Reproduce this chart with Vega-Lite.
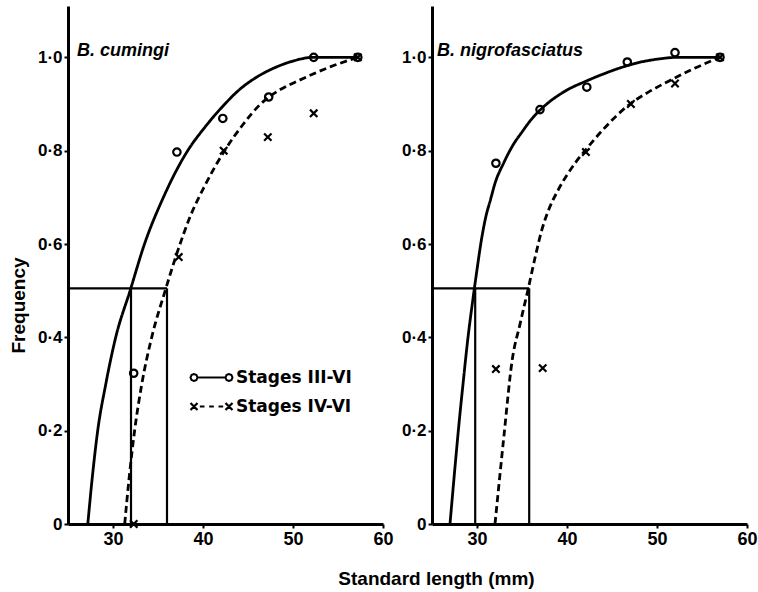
{
  "$schema": "https://vega.github.io/schema/vega-lite/v6.json",
  "padding": {"left": 9, "top": 6, "right": 5, "bottom": 5},
  "background": "white",
  "bounds": "flush",
  "spacing": 49,
  "datasets": {
    "curves": [
      {"species": "B. cumingi", "stage": "Stages III-VI", "x": 27.2, "y": 0},
      {"species": "B. cumingi", "stage": "Stages III-VI", "x": 27.7, "y": 0.1},
      {"species": "B. cumingi", "stage": "Stages III-VI", "x": 28.3, "y": 0.2},
      {"species": "B. cumingi", "stage": "Stages III-VI", "x": 29.2, "y": 0.3},
      {"species": "B. cumingi", "stage": "Stages III-VI", "x": 30.3, "y": 0.4},
      {"species": "B. cumingi", "stage": "Stages III-VI", "x": 31.9, "y": 0.5},
      {"species": "B. cumingi", "stage": "Stages III-VI", "x": 33.5, "y": 0.6},
      {"species": "B. cumingi", "stage": "Stages III-VI", "x": 35.6, "y": 0.7},
      {"species": "B. cumingi", "stage": "Stages III-VI", "x": 38.3, "y": 0.8},
      {"species": "B. cumingi", "stage": "Stages III-VI", "x": 40.2, "y": 0.85},
      {"species": "B. cumingi", "stage": "Stages III-VI", "x": 42.1, "y": 0.893},
      {"species": "B. cumingi", "stage": "Stages III-VI", "x": 44.0, "y": 0.93},
      {"species": "B. cumingi", "stage": "Stages III-VI", "x": 46.0, "y": 0.958},
      {"species": "B. cumingi", "stage": "Stages III-VI", "x": 48.0, "y": 0.978},
      {"species": "B. cumingi", "stage": "Stages III-VI", "x": 50.0, "y": 0.992},
      {"species": "B. cumingi", "stage": "Stages III-VI", "x": 52.2, "y": 1.0},
      {"species": "B. cumingi", "stage": "Stages III-VI", "x": 57.2, "y": 1.0},
      {"species": "B. cumingi", "stage": "Stages IV-VI", "x": 31.3, "y": 0},
      {"species": "B. cumingi", "stage": "Stages IV-VI", "x": 31.8, "y": 0.1},
      {"species": "B. cumingi", "stage": "Stages IV-VI", "x": 32.4, "y": 0.2},
      {"species": "B. cumingi", "stage": "Stages IV-VI", "x": 33.2, "y": 0.3},
      {"species": "B. cumingi", "stage": "Stages IV-VI", "x": 34.3, "y": 0.4},
      {"species": "B. cumingi", "stage": "Stages IV-VI", "x": 35.8, "y": 0.5},
      {"species": "B. cumingi", "stage": "Stages IV-VI", "x": 37.1, "y": 0.58},
      {"species": "B. cumingi", "stage": "Stages IV-VI", "x": 38.6, "y": 0.66},
      {"species": "B. cumingi", "stage": "Stages IV-VI", "x": 40.2, "y": 0.725},
      {"species": "B. cumingi", "stage": "Stages IV-VI", "x": 42.4, "y": 0.8},
      {"species": "B. cumingi", "stage": "Stages IV-VI", "x": 44.4, "y": 0.855},
      {"species": "B. cumingi", "stage": "Stages IV-VI", "x": 46.4, "y": 0.9},
      {"species": "B. cumingi", "stage": "Stages IV-VI", "x": 48.5, "y": 0.93},
      {"species": "B. cumingi", "stage": "Stages IV-VI", "x": 50.6, "y": 0.95},
      {"species": "B. cumingi", "stage": "Stages IV-VI", "x": 54.2, "y": 0.98},
      {"species": "B. cumingi", "stage": "Stages IV-VI", "x": 57.2, "y": 1.0},
      {"species": "B. nigrofasciatus", "stage": "Stages III-VI", "x": 27.0, "y": 0},
      {"species": "B. nigrofasciatus", "stage": "Stages III-VI", "x": 27.5, "y": 0.11},
      {"species": "B. nigrofasciatus", "stage": "Stages III-VI", "x": 28.0, "y": 0.215},
      {"species": "B. nigrofasciatus", "stage": "Stages III-VI", "x": 28.5, "y": 0.31},
      {"species": "B. nigrofasciatus", "stage": "Stages III-VI", "x": 29.0, "y": 0.4},
      {"species": "B. nigrofasciatus", "stage": "Stages III-VI", "x": 29.5, "y": 0.475},
      {"species": "B. nigrofasciatus", "stage": "Stages III-VI", "x": 30.0, "y": 0.545},
      {"species": "B. nigrofasciatus", "stage": "Stages III-VI", "x": 30.5, "y": 0.61},
      {"species": "B. nigrofasciatus", "stage": "Stages III-VI", "x": 31.0, "y": 0.66},
      {"species": "B. nigrofasciatus", "stage": "Stages III-VI", "x": 31.5, "y": 0.695},
      {"species": "B. nigrofasciatus", "stage": "Stages III-VI", "x": 32.0, "y": 0.73},
      {"species": "B. nigrofasciatus", "stage": "Stages III-VI", "x": 33.0, "y": 0.775},
      {"species": "B. nigrofasciatus", "stage": "Stages III-VI", "x": 34.0, "y": 0.812},
      {"species": "B. nigrofasciatus", "stage": "Stages III-VI", "x": 35.0, "y": 0.84},
      {"species": "B. nigrofasciatus", "stage": "Stages III-VI", "x": 36.0, "y": 0.866},
      {"species": "B. nigrofasciatus", "stage": "Stages III-VI", "x": 37.0, "y": 0.887},
      {"species": "B. nigrofasciatus", "stage": "Stages III-VI", "x": 38.0, "y": 0.904},
      {"species": "B. nigrofasciatus", "stage": "Stages III-VI", "x": 39.0, "y": 0.918},
      {"species": "B. nigrofasciatus", "stage": "Stages III-VI", "x": 40.0, "y": 0.93},
      {"species": "B. nigrofasciatus", "stage": "Stages III-VI", "x": 42.0, "y": 0.948},
      {"species": "B. nigrofasciatus", "stage": "Stages III-VI", "x": 44.0, "y": 0.964},
      {"species": "B. nigrofasciatus", "stage": "Stages III-VI", "x": 46.0, "y": 0.978},
      {"species": "B. nigrofasciatus", "stage": "Stages III-VI", "x": 48.0, "y": 0.989},
      {"species": "B. nigrofasciatus", "stage": "Stages III-VI", "x": 50.0, "y": 0.996},
      {"species": "B. nigrofasciatus", "stage": "Stages III-VI", "x": 52.3, "y": 1.0},
      {"species": "B. nigrofasciatus", "stage": "Stages III-VI", "x": 57.0, "y": 1.0},
      {"species": "B. nigrofasciatus", "stage": "Stages IV-VI", "x": 32.0, "y": 0},
      {"species": "B. nigrofasciatus", "stage": "Stages IV-VI", "x": 33.0, "y": 0.19},
      {"species": "B. nigrofasciatus", "stage": "Stages IV-VI", "x": 33.9, "y": 0.35},
      {"species": "B. nigrofasciatus", "stage": "Stages IV-VI", "x": 34.8, "y": 0.43},
      {"species": "B. nigrofasciatus", "stage": "Stages IV-VI", "x": 35.7, "y": 0.505},
      {"species": "B. nigrofasciatus", "stage": "Stages IV-VI", "x": 36.5, "y": 0.575},
      {"species": "B. nigrofasciatus", "stage": "Stages IV-VI", "x": 37.2, "y": 0.63},
      {"species": "B. nigrofasciatus", "stage": "Stages IV-VI", "x": 38.0, "y": 0.675},
      {"species": "B. nigrofasciatus", "stage": "Stages IV-VI", "x": 39.0, "y": 0.715},
      {"species": "B. nigrofasciatus", "stage": "Stages IV-VI", "x": 40.0, "y": 0.748},
      {"species": "B. nigrofasciatus", "stage": "Stages IV-VI", "x": 41.0, "y": 0.776},
      {"species": "B. nigrofasciatus", "stage": "Stages IV-VI", "x": 42.0, "y": 0.8},
      {"species": "B. nigrofasciatus", "stage": "Stages IV-VI", "x": 44.0, "y": 0.845},
      {"species": "B. nigrofasciatus", "stage": "Stages IV-VI", "x": 47.0, "y": 0.9},
      {"species": "B. nigrofasciatus", "stage": "Stages IV-VI", "x": 49.0, "y": 0.925},
      {"species": "B. nigrofasciatus", "stage": "Stages IV-VI", "x": 51.4, "y": 0.95},
      {"species": "B. nigrofasciatus", "stage": "Stages IV-VI", "x": 54.0, "y": 0.975},
      {"species": "B. nigrofasciatus", "stage": "Stages IV-VI", "x": 57.0, "y": 1.0}
    ],
    "points": [
      {"species": "B. cumingi", "stage": "Stages III-VI", "x": 32.3, "y": 0.323},
      {"species": "B. cumingi", "stage": "Stages III-VI", "x": 37.1, "y": 0.797},
      {"species": "B. cumingi", "stage": "Stages III-VI", "x": 42.2, "y": 0.869},
      {"species": "B. cumingi", "stage": "Stages III-VI", "x": 47.3, "y": 0.915},
      {"species": "B. cumingi", "stage": "Stages III-VI", "x": 52.3, "y": 1.0},
      {"species": "B. cumingi", "stage": "Stages III-VI", "x": 57.2, "y": 1.0},
      {"species": "B. cumingi", "stage": "Stages IV-VI", "x": 32.3, "y": 0},
      {"species": "B. cumingi", "stage": "Stages IV-VI", "x": 37.3, "y": 0.572},
      {"species": "B. cumingi", "stage": "Stages IV-VI", "x": 42.3, "y": 0.8},
      {"species": "B. cumingi", "stage": "Stages IV-VI", "x": 47.2, "y": 0.829},
      {"species": "B. cumingi", "stage": "Stages IV-VI", "x": 52.3, "y": 0.88},
      {"species": "B. cumingi", "stage": "Stages IV-VI", "x": 57.2, "y": 1.0},
      {"species": "B. nigrofasciatus", "stage": "Stages III-VI", "x": 32.1, "y": 0.773},
      {"species": "B. nigrofasciatus", "stage": "Stages III-VI", "x": 37.0, "y": 0.888},
      {"species": "B. nigrofasciatus", "stage": "Stages III-VI", "x": 42.2, "y": 0.936},
      {"species": "B. nigrofasciatus", "stage": "Stages III-VI", "x": 46.7, "y": 0.99},
      {"species": "B. nigrofasciatus", "stage": "Stages III-VI", "x": 52.0, "y": 1.01},
      {"species": "B. nigrofasciatus", "stage": "Stages III-VI", "x": 57.0, "y": 1.0},
      {"species": "B. nigrofasciatus", "stage": "Stages IV-VI", "x": 32.1, "y": 0.332},
      {"species": "B. nigrofasciatus", "stage": "Stages IV-VI", "x": 37.3, "y": 0.334},
      {"species": "B. nigrofasciatus", "stage": "Stages IV-VI", "x": 42.1, "y": 0.797},
      {"species": "B. nigrofasciatus", "stage": "Stages IV-VI", "x": 47.1, "y": 0.9},
      {"species": "B. nigrofasciatus", "stage": "Stages IV-VI", "x": 52.0, "y": 0.944},
      {"species": "B. nigrofasciatus", "stage": "Stages IV-VI", "x": 57.0, "y": 1.0}
    ],
    "refs": [
      {"species": "B. cumingi", "x": 25, "x2": 36, "y": 0.505, "y2": 0.505},
      {"species": "B. cumingi", "x": 32, "x2": 32, "y": 0, "y2": 0.505},
      {"species": "B. cumingi", "x": 36, "x2": 36, "y": 0, "y2": 0.505},
      {"species": "B. nigrofasciatus", "x": 25, "x2": 35.8, "y": 0.505, "y2": 0.505},
      {"species": "B. nigrofasciatus", "x": 29.8, "x2": 29.8, "y": 0, "y2": 0.505},
      {"species": "B. nigrofasciatus", "x": 35.8, "x2": 35.8, "y": 0, "y2": 0.505}
    ]
  },
  "hconcat": [
    {
      "width": 315,
      "height": 518,
      "title": {"text": "B. cumingi", "anchor": "start", "frame": "group", "dx": 9, "dy": 54, "offset": 0},
      "encoding": {
        "x": {"field": "x", "type": "quantitative", "scale": {"domain": [25, 60], "nice": false, "zero": false},
          "axis": {"values": [30, 40, 50, 60], "title": "Standard length (mm)", "titleX": 368, "titleY": 54, "titleBaseline": "middle", "titleAlign": "center"}},
        "y": {"field": "y", "type": "quantitative", "scale": {"domain": [0, 1.11], "nice": false, "zero": false},
          "axis": {"values": [0, 0.2, 0.4, 0.6, 0.8, 1], "labelExpr": "datum.value == 0 ? '0' : replace(format(datum.value, '.1f'), '.', '·')", "title": "Frequency", "titleX": -50, "titleY": 299, "titleBaseline": "middle", "titleAlign": "center"}}
      },
      "layer": [
        {
          "data": {"name": "refs"},
          "transform": [{"filter": "datum.species == 'B. cumingi'"}],
          "mark": {"type": "rule", "color": "black", "strokeWidth": 2.2},
          "encoding": {"x2": {"field": "x2"}, "y2": {"field": "y2"}}
        },
        {
          "data": {"name": "curves"},
          "transform": [{"filter": "datum.species == 'B. cumingi'"}],
          "mark": {"type": "line", "interpolate": "monotone", "color": "black", "strokeWidth": 2.8},
          "encoding": {
            "strokeDash": {"field": "stage", "type": "nominal", "scale": {"range": [[1, 0], [7, 4]]},
              "legend": {
                "orient": "none", "legendX": 135, "legendY": 363, "title": null, "padding": 0,
                "values": ["Stages III-VI"],
                "symbolType": "M-2.4,0L-2.576,0.424L-3,0.6L-3.424,0.424L-3.6,0L-3.424,-0.424L-3,-0.6L-2.576,-0.424ZM-2.4,0L2.4,0M3.6,0L3.424,0.424L3,0.6L2.576,0.424L2.4,0L2.576,-0.424L3,-0.6L3.424,-0.424Z",
                "symbolSize": 136, "symbolStrokeWidth": 2, "symbolStrokeColor": "black", "symbolFillColor": "transparent",
                "labelFont": "DejaVu Sans", "labelFontSize": 17, "labelFontWeight": "bold", "labelColor": "black",
                "labelOffset": 16
              }
            }
          }
        },
        {
          "data": {"name": "points"},
          "transform": [{"filter": "datum.species == 'B. cumingi'"}],
          "mark": {"type": "point", "filled": false, "color": "black", "size": 55, "opacity": 1},
          "encoding": {
            "shape": {"field": "stage", "type": "nominal",
              "scale": {"domain": ["Stages III-VI", "Stages IV-VI"], "range": ["circle", "M-1,-1L1,1M1,-1L-1,1"]},
              "legend": null
            },
            "strokeWidth": {"field": "stage", "type": "nominal", "scale": {"range": [2.2, 2.2]},
              "legend": {
                "orient": "none", "legendX": 135, "legendY": 392, "title": null, "padding": 0,
                "values": ["Stages IV-VI"],
                "symbolType": "M-3.6,-0.6L-2.4,0.6M-2.4,-0.6L-3.6,0.6M-2.0,0L-1.2,0M-0.4,0L0.4,0M1.2,0L2.0,0M2.4,-0.6L3.6,0.6M3.6,-0.6L2.4,0.6",
                "symbolSize": 136, "symbolStrokeColor": "black", "symbolFillColor": "transparent",
                "labelFont": "DejaVu Sans", "labelFontSize": 17, "labelFontWeight": "bold", "labelColor": "black",
                "labelOffset": 16
              }
            }
          }
        }
      ]
    },
    {
      "width": 315,
      "height": 518,
      "title": {"text": "B. nigrofasciatus", "anchor": "start", "frame": "group", "dx": 5, "dy": 54, "offset": 0},
      "encoding": {
        "x": {"field": "x", "type": "quantitative", "scale": {"domain": [25, 60], "nice": false, "zero": false},
          "axis": {"values": [30, 40, 50, 60], "title": null}},
        "y": {"field": "y", "type": "quantitative", "scale": {"domain": [0, 1.11], "nice": false, "zero": false},
          "axis": {"values": [0, 0.2, 0.4, 0.6, 0.8, 1], "labelExpr": "datum.value == 0 ? '0' : replace(format(datum.value, '.1f'), '.', '·')", "title": null}}
      },
      "layer": [
        {
          "data": {"name": "refs"},
          "transform": [{"filter": "datum.species == 'B. nigrofasciatus'"}],
          "mark": {"type": "rule", "color": "black", "strokeWidth": 2.2},
          "encoding": {"x2": {"field": "x2"}, "y2": {"field": "y2"}}
        },
        {
          "data": {"name": "curves"},
          "transform": [{"filter": "datum.species == 'B. nigrofasciatus'"}],
          "mark": {"type": "line", "interpolate": "monotone", "color": "black", "strokeWidth": 2.8},
          "encoding": {
            "strokeDash": {"field": "stage", "type": "nominal", "scale": {"range": [[1, 0], [7, 4]]}, "legend": null}
          }
        },
        {
          "data": {"name": "points"},
          "transform": [{"filter": "datum.species == 'B. nigrofasciatus'"}],
          "mark": {"type": "point", "filled": false, "color": "black", "strokeWidth": 2.2, "size": 55, "opacity": 1},
          "encoding": {
            "shape": {"field": "stage", "type": "nominal",
              "scale": {"domain": ["Stages III-VI", "Stages IV-VI"], "range": ["circle", "M-1,-1L1,1M1,-1L-1,1"]},
              "legend": null
            }
          }
        }
      ]
    }
  ],
  "resolve": {
    "scale": {"shape": "independent", "strokeDash": "independent", "strokeWidth": "independent"},
    "legend": {"shape": "independent", "strokeDash": "independent", "strokeWidth": "independent"}
  },
  "config": {
    "view": {"stroke": null},
    "font": "Liberation Sans",
    "axis": {
      "domainColor": "black", "domainWidth": 3, "tickColor": "black", "tickWidth": 2, "tickSize": 4,
      "labelColor": "black", "labelFont": "Liberation Sans", "labelFontSize": 17, "labelFontWeight": "bold", "labelPadding": 2,
      "titleColor": "black", "titleFont": "Liberation Sans", "titleFontSize": 19, "titleFontWeight": "bold",
      "grid": false, "labelFlush": false
    },
    "axisX": {"labelFontSize": 18},
    "title": {"font": "Liberation Sans", "fontSize": 18, "fontStyle": "italic", "fontWeight": "bold", "color": "black"}
  }
}
